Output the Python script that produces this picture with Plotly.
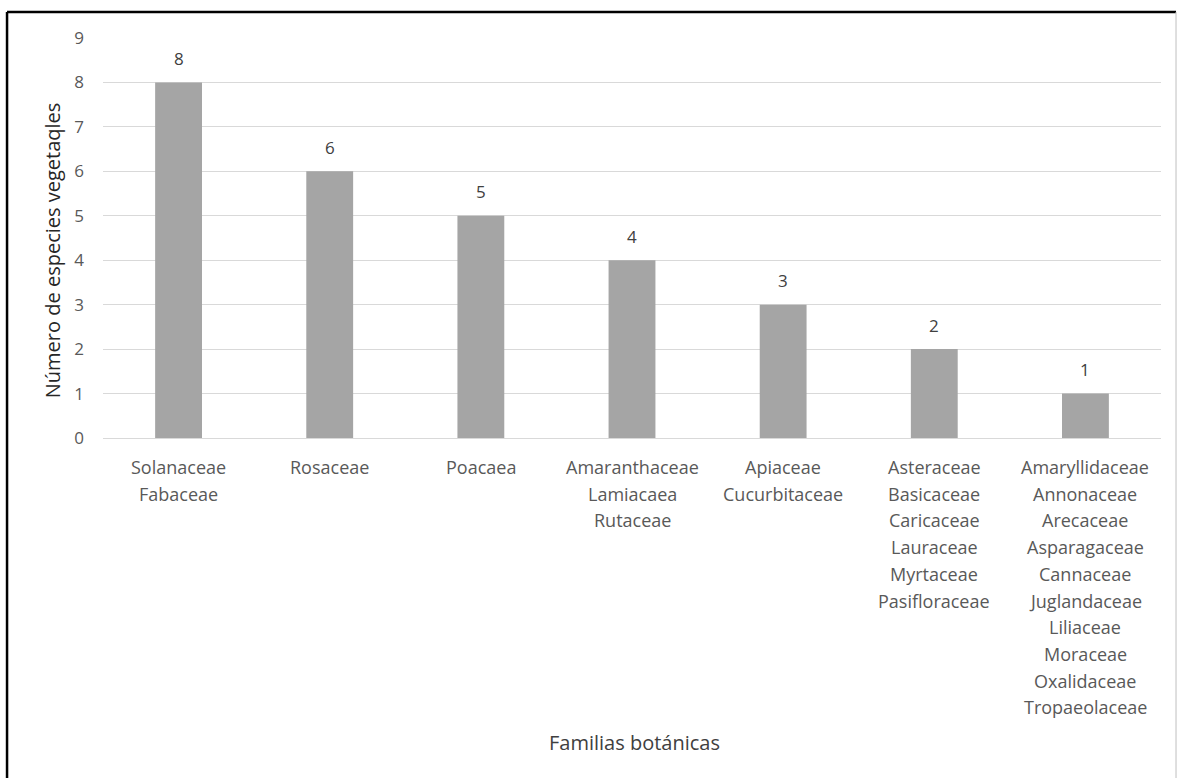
import plotly.graph_objects as go

categories = [
    ["Solanaceae", "Fabaceae"],
    ["Rosaceae"],
    ["Poacaea"],
    ["Amaranthaceae", "Lamiacaea", "Rutaceae"],
    ["Apiaceae", "Cucurbitaceae"],
    ["Asteraceae", "Basicaceae", "Caricaceae", "Lauraceae", "Myrtaceae", "Pasifloraceae"],
    ["Amaryllidaceae", "Annonaceae", "Arecaceae", "Asparagaceae", "Cannaceae",
     "Juglandaceae", "Liliaceae", "Moraceae", "Oxalidaceae", "Tropaeolaceae"],
]
values = [8, 6, 5, 4, 3, 2, 1]
y_ticks = [0, 1, 2, 3, 4, 5, 6, 7, 8, 9]
x_title = "Familias botánicas"
y_title = "Número de especies vegetaqles"

FONT = "Open Sans"
x_idx = list(range(len(values)))

fig = go.Figure()
fig.add_trace(go.Bar(
    x=x_idx, y=values,
    marker=dict(color="#a5a5a5", line=dict(width=0)),
    width=0.31,
))

annotations = []
for i, v in enumerate(values):
    annotations.append(dict(
        x=i, y=v, xref="x", yref="y", text=str(v), showarrow=False,
        yanchor="middle", xanchor="center", yshift=24,
        font=dict(family=FONT, size=17, color="#404040"),
    ))
for i, names in enumerate(categories):
    for j, name in enumerate(names):
        annotations.append(dict(
            x=i, y=0, xref="x", yref="y", text=name, showarrow=False,
            yanchor="middle", xanchor="center",
            yshift=-29 - 26.7 * j,
            font=dict(family=FONT, size=18, color="#595959"),
        ))
annotations.append(dict(
    x=0.502, y=-0.76, xref="paper", yref="paper", text=x_title, showarrow=False,
    xanchor="center", yanchor="middle",
    font=dict(family=FONT, size=20, color="#404040"),
))
annotations.append(dict(
    x=-0.048, y=0.47, xref="paper", yref="paper", text=y_title, showarrow=False,
    xanchor="center", yanchor="middle", textangle=-90,
    font=dict(family=FONT, size=20, color="#262626"),
))

fig.update_layout(
    width=1178, height=778,
    margin=dict(l=103, r=17, t=38, b=340),
    paper_bgcolor="white", plot_bgcolor="white",
    showlegend=False,
    annotations=annotations,
    xaxis=dict(
        range=[-0.5, 6.5], showticklabels=False, showgrid=False, zeroline=False,
        showline=False, ticks="",
    ),
    yaxis=dict(
        range=[0, 9], tickvals=y_ticks, showgrid=True, gridcolor="#d9d9d9", gridwidth=1,
        zeroline=True, zerolinecolor="#d9d9d9", zerolinewidth=1,
        tickfont=dict(family=FONT, size=17, color="#595959"), ticks="",
        ticklabelstandoff=18,
    ),
    shapes=[
        dict(type="line", xref="paper", yref="paper", x0=-0.0907, x1=-0.0907, y0=1.065, y1=-0.9,
             line=dict(color="black", width=2.5)),
        dict(type="line", xref="paper", yref="paper", x0=-0.0907, x1=1.0142, y0=1.065, y1=1.065,
             line=dict(color="black", width=2.5)),
        dict(type="line", xref="paper", yref="paper", x0=1.0142, x1=1.0142, y0=1.065, y1=-0.9,
             line=dict(color="#bfbfbf", width=1)),
    ],
)

fig.write_html("out.html")
